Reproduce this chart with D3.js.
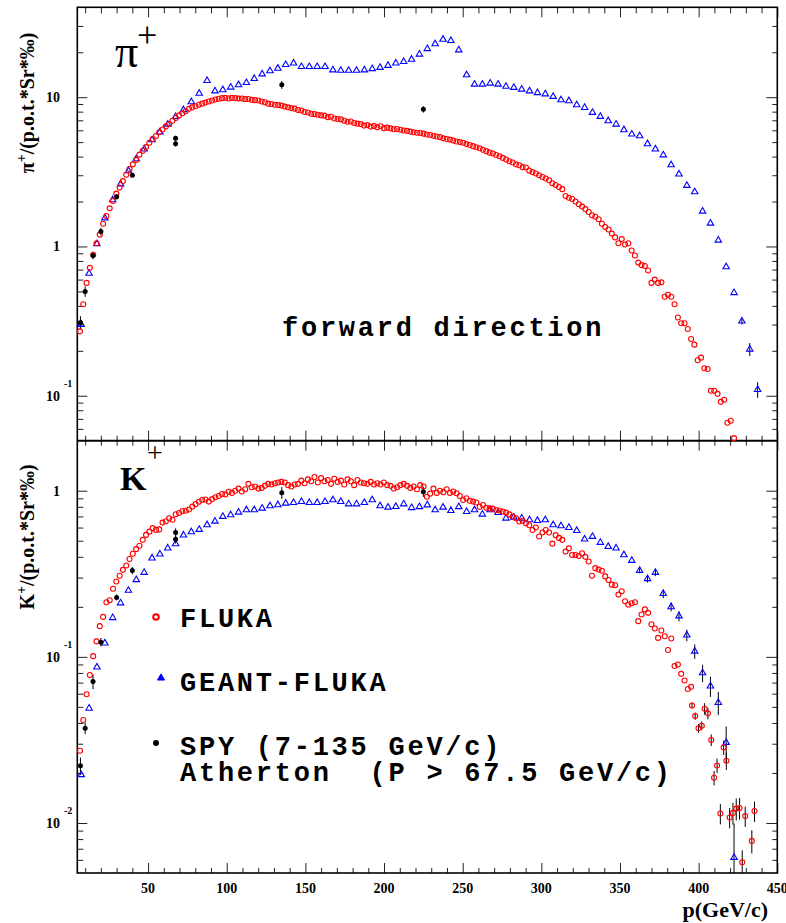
<!DOCTYPE html>
<html><head><meta charset="utf-8">
<script src="https://cdn.jsdelivr.net/npm/d3@7"></script>
<style>body{margin:0;background:#fff}svg{display:block}</style>
</head><body>
<svg id="c" width="786" height="923"></svg>
<script>
// ---------------- DATA ----------------
const momentaFine = [
6.7, 8.8, 10.9, 13.0, 15.1, 17.2, 19.3, 21.4, 23.5, 25.6,
27.7, 29.8, 31.9, 34.0, 36.1, 38.2, 40.3, 42.4, 44.5, 46.6,
48.7, 50.8, 52.9, 55.0, 57.1, 59.2, 61.3, 63.4, 65.5, 67.6,
69.7, 71.8, 73.9, 76.0, 78.1, 80.2, 82.3, 84.4, 86.5, 88.6,
90.7, 92.8, 94.9, 97.0, 99.1, 101.2, 103.3, 105.4, 107.5, 109.6,
111.7, 113.8, 115.9, 118.0, 120.1, 122.2, 124.3, 126.4, 128.5, 130.6,
132.7, 134.8, 136.9, 139.0, 141.1, 143.2, 145.3, 147.4, 149.5, 151.6,
153.7, 155.8, 157.9, 160.0, 162.1, 164.2, 166.3, 168.4, 170.5, 172.6,
174.7, 176.8, 178.9, 181.0, 183.1, 185.2, 187.3, 189.4, 191.5, 193.6,
195.7, 197.8, 199.9, 202.0, 204.1, 206.2, 208.3, 210.4, 212.5, 214.6,
216.7, 218.8, 220.9, 223.0, 225.1, 227.2, 229.3, 231.4, 233.5, 235.6,
237.7, 239.8, 241.9, 244.0, 246.1, 248.2, 250.3, 252.4, 254.5, 256.6,
258.7, 260.8, 262.9, 265.0, 267.1, 269.2, 271.3, 273.4, 275.5, 277.6,
279.7, 281.8, 283.9, 286.0, 288.1, 290.2, 292.3, 294.4, 296.5, 298.6,
300.7, 302.8, 304.9, 307.0, 309.1, 311.2, 313.3, 315.4, 317.5, 319.6,
321.7, 323.8, 325.9, 328.0, 330.1, 332.2, 334.3, 336.4, 338.5, 340.6,
342.7, 344.8, 346.9, 349.0, 351.1, 353.2, 355.3, 357.4, 359.5, 361.6,
363.7, 365.8, 367.9, 370.0, 372.1, 374.2, 376.3, 378.4, 380.5, 382.6,
384.7, 386.8, 388.9, 391.0, 393.1, 395.2, 397.3, 399.4, 401.5, 403.6,
405.7, 407.8, 409.9, 412.0, 414.1, 416.2, 418.3, 420.4, 422.5];

// FLUKA pi+ (forward direction)
const flukaPi = [
0.27, 0.41, 0.57, 0.72, 0.88, 1.05, 1.20, 1.42, 1.60, 1.80,
2.02, 2.26, 2.48, 2.74, 3.02, 3.30, 3.55, 3.80, 4.12, 4.38,
4.63, 4.95, 5.25, 5.50, 5.82, 6.08, 6.37, 6.62, 6.95, 7.25,
7.55, 7.80, 8.05, 8.35, 8.55, 8.70, 8.90, 9.05, 9.20, 9.35,
9.50, 9.65, 9.75, 9.85, 9.90, 9.80, 9.90, 9.85, 9.78, 9.80,
9.70, 9.72, 9.60, 9.55, 9.50, 9.35, 9.25, 9.05, 9.00, 8.90,
8.85, 8.78, 8.65, 8.55, 8.45, 8.38, 8.20, 8.15, 7.95, 7.90,
7.75, 7.70, 7.62, 7.55, 7.52, 7.35, 7.40, 7.20, 7.15, 7.10,
6.95, 6.85, 6.88, 6.72, 6.65, 6.60, 6.45, 6.50, 6.35, 6.40,
6.30, 6.38, 6.20, 6.25, 6.18, 6.10, 6.12, 6.05, 5.98, 5.95,
5.88, 5.82, 5.78, 5.75, 5.70, 5.62, 5.58, 5.52, 5.45, 5.40,
5.30, 5.25, 5.20, 5.12, 5.05, 5.00, 4.95, 4.85, 4.78, 4.70,
4.62, 4.55, 4.45, 4.35, 4.25, 4.20, 4.10, 4.02, 3.92, 3.82,
3.72, 3.65, 3.55, 3.50, 3.40, 3.38, 3.22, 3.15, 3.08, 3.00,
2.92, 2.85, 2.78, 2.65, 2.58, 2.50, 2.42, 2.18, 2.12, 2.08,
2.00, 1.92, 1.85, 1.78, 1.70, 1.62, 1.58, 1.52, 1.42, 1.35,
1.30, 1.22, 1.15, 1.05, 1.12, 1.03, 1.05, 0.94, 0.87, 0.78,
0.75, 0.74, 0.69, 0.57, 0.60, 0.57, 0.575, 0.46, 0.475, 0.46,
0.41, 0.334, 0.306, 0.306, 0.28, 0.24, 0.22, 0.173, 0.18, 0.153,
0.151, 0.108, 0.108, 0.103, 0.091, 0.094, 0.066, 0.068, 0.052];

// FLUKA K+ (first part on momentaFine, then tail points [p, value, relErr])
const flukaK = [
0.0272, 0.0417, 0.0595, 0.0777, 0.101, 0.124, 0.153, 0.174, 0.213, 0.219,
0.257, 0.284, 0.308, 0.334, 0.355, 0.388, 0.417, 0.445, 0.466, 0.506,
0.542, 0.567, 0.595, 0.581, 0.585, 0.643, 0.655, 0.683, 0.668, 0.722,
0.735, 0.755, 0.758, 0.77, 0.802, 0.83, 0.859, 0.88, 0.885, 0.86,
0.89, 0.913, 0.93, 0.955, 0.95, 0.986, 0.97, 1.00, 1.03, 0.99,
1.02, 1.10, 1.05, 1.06, 1.03, 1.04, 1.07, 1.10, 1.09, 1.11,
1.12, 1.13, 1.12, 1.08, 1.06, 1.09, 1.10, 1.15, 1.11, 1.17,
1.14, 1.21, 1.12, 1.19, 1.14, 1.16, 1.10, 1.18, 1.13, 1.15,
1.09, 1.17, 1.14, 1.08, 1.16, 1.12, 1.11, 1.10, 1.13, 1.09,
1.11, 1.09, 1.12, 1.08, 1.07, 1.03, 1.05, 1.08, 1.10, 1.07,
1.04, 1.06, 1.02, 1.08, 1.06, 0.92, 0.96, 1.03, 0.97, 1.00,
0.98, 1.02, 0.97, 0.99, 0.965, 0.93, 0.88, 0.90, 0.87, 0.86,
0.85, 0.80, 0.82, 0.79, 0.784, 0.78, 0.766, 0.76, 0.75, 0.738,
0.72, 0.70, 0.683, 0.652, 0.66, 0.638, 0.62, 0.58, 0.60, 0.53,
0.56, 0.58, 0.56, 0.48, 0.54, 0.52, 0.506, 0.43, 0.45, 0.41,
0.41, 0.405, 0.42, 0.40, 0.375, 0.308, 0.342, 0.335, 0.33, 0.305,
0.29, 0.272, 0.27, 0.237, 0.248, 0.216, 0.206, 0.21, 0.213, 0.164,
0.18, 0.193, 0.184, 0.157, 0.148, 0.13, 0.144, 0.133, 0.110, 0.129,
0.088, 0.09, 0.079, 0.072, 0.064, 0.066];
const flukaKTail = [
[395.8,0.051,0.04],[397.8,0.044,0.05],[399.9,0.0372,0.06],[402.0,0.0385,0.06],
[403.8,0.0487,0.08],[405.9,0.0457,0.08],[408.0,0.0316,0.08],[409.8,0.0187,0.10],
[411.7,0.0222,0.10],[413.8,0.0114,0.14],[415.9,0.0285,0.10],[417.6,0.0237,0.12],
[419.7,0.0108,0.14],[421.8,0.0115,0.15],[423.9,0.0122,0.15],[426.0,0.0123,0.15],
[427.7,0.0058,0.18],[429.6,0.0110,0.14],[433.8,0.0078,0.16],[435.5,0.0118,0.14]];

const momentaCoarse = [
7.5, 12.5, 17.5, 22.5, 27.5, 32.5, 37.5, 42.5, 47.5, 52.5,
57.5, 62.5, 67.5, 72.5, 77.5, 82.5, 87.5, 92.5, 97.5, 102.5,
107.5, 112.5, 117.5, 122.5, 127.5, 132.5, 137.5, 142.5, 147.5, 152.5,
157.5, 162.5, 167.5, 172.5, 177.5, 182.5, 187.5, 192.5, 197.5, 202.5,
207.5, 212.5, 217.5, 222.5, 227.5, 232.5, 237.5, 242.5, 247.5, 252.5,
257.5, 262.5, 267.5, 272.5, 277.5, 282.5, 287.5, 292.5, 297.5, 302.5,
307.5, 312.5, 317.5, 322.5, 327.5, 332.5, 337.5, 342.5, 347.5, 352.5,
357.5, 362.5, 367.5, 372.5, 377.5, 382.5, 387.5, 392.5, 397.5, 402.5,
407.5, 412.5, 417.5, 422.5, 427.5, 432.5, 437.5];

const geantPi = [
0.30, 0.66, 1.04, 1.55, 2.05, 2.62, 3.21, 3.86, 4.49, 5.17,
5.83, 6.59, 7.40, 8.22, 9.30, 10.6, 12.9, 11.0, 11.2, 11.66,
12.1, 12.5, 13.3, 14.3, 15.0, 15.6, 16.5, 16.9, 16.0, 16.0,
16.0, 16.0, 15.2, 15.1, 15.1, 15.1, 15.2, 15.5, 15.8, 16.3,
16.9, 17.3, 17.9, 19.4, 21.1, 22.75, 24.4, 23.9, 20.7, 14.1,
12.2, 12.2, 12.4, 12.2, 11.8, 11.6, 11.3, 11.0, 10.7, 10.5,
10.1, 9.59, 9.45, 8.88, 8.52, 7.89, 7.42, 6.94, 6.59, 6.04,
5.65, 5.50, 4.87, 4.49, 4.10, 3.52, 3.05, 2.56, 2.32, 1.72,
1.43, 1.10, 0.73, 0.49, 0.316, 0.205, 0.11];
const geantPiErr = [[427.5,0.05],[432.5,0.10],[437.5,0.12]];

const geantK = [
0.0195, 0.049, 0.0867, 0.121, 0.172, 0.211, 0.251, 0.291, 0.322, 0.393,
0.415, 0.451, 0.479, 0.540, 0.565, 0.584, 0.623, 0.655, 0.699, 0.715,
0.742, 0.766, 0.766, 0.784, 0.81, 0.821, 0.84, 0.847, 0.859, 0.847,
0.847, 0.859, 0.88, 0.859, 0.832, 0.832, 0.847, 0.88, 0.81, 0.795,
0.802, 0.832, 0.79, 0.80, 0.82, 0.766, 0.795, 0.759, 0.80, 0.748,
0.766, 0.722, 0.766, 0.738, 0.683, 0.692, 0.683, 0.667, 0.661, 0.667,
0.623, 0.614, 0.60, 0.575, 0.511, 0.53, 0.488, 0.461, 0.451, 0.411,
0.38, 0.331, 0.295, 0.322, 0.24, 0.20, 0.176, 0.135, 0.108, 0.080,
0.0667, 0.053, 0.0305, 0.0062];
const geantKErr = [[362.5,0.04],[367.5,0.05],[372.5,0.05],[377.5,0.06],[382.5,0.06],
[387.5,0.07],[392.5,0.08],[397.5,0.10],[402.5,0.12],[407.5,0.14],[412.5,0.16],
[417.5,0.25],[422.5,0.6]];

// SPY / Atherton measurements [p, value, relErr]
const spyPi = [[7,0.31,0.10],[10,0.50,0.08],[15,0.87,0.06],[20,1.26,0.06],[30,2.15,0.04],
[40,3.0,0.03],[67.5,5.3,0.04],[67.5,4.87,0.04],[135,12.1,0.06],[225,8.3,0.05]];
const spyK = [[7,0.0221,0.12],[10,0.0372,0.08],[15,0.071,0.10],[20,0.1225,0.06],[30,0.228,0.04],
[40,0.331,0.05],[67.5,0.56,0.06],[67.5,0.511,0.06],[135,0.973,0.08],[225,0.986,0.07]];

const xTickValues = [50,100,150,200,250,300,350,400,450];
const piTickVals = [0.1,1,10], piTickBase = ["10","1","10"], piTickExp = ["-1","",""];
const kTickVals = [0.01,0.1,1], kTickBase = ["10","10","1"], kTickExp = ["-2","-1",""];
const legendLabels = ["FLUKA","GEANT-FLUKA","SPY (7-135 GeV/c)","Atherton  (P > 67.5 GeV/c)"];

// ---------------- CHART ----------------
const svg = d3.select("#c");
const xL=77.3, xR=777.3, yT=7.3, yM=440.7, yB=873;
const x = d3.scaleLinear().domain([5,450]).range([xL,xR]);
const yPi = d3.scaleLog().domain([0.05,40]).range([yM,yT]);
const yK = d3.scaleLog().domain([0.005,2]).range([yB,yM]);
const serif = "'Liberation Serif','Times New Roman',Times,serif";
const mono = "'Courier New','Liberation Mono',monospace";
const RED="#ff0000", BLUE="#0000ff";
const monoSize = 27, monoSpacing = 2.75;

svg.append("rect").attr("width",786).attr("height",923).attr("fill","#fff");
const defs = svg.append("defs");
defs.append("clipPath").attr("id","clipK").append("rect").attr("x",xL).attr("y",yM).attr("width",xR-xL).attr("height",yB-yM);
defs.append("clipPath").attr("id","clipPi").append("rect").attr("x",xL).attr("y",yT).attr("width",xR-xL).attr("height",yM-yT);

function styleAxis(g){ g.select(".domain").remove(); g.selectAll("line").attr("stroke","#222").attr("stroke-width",1); g.selectAll("text").remove(); }
const xMinor = d3.range(10,450,10).filter(v=>v%50!==0);
function xAxes(gen, y, major, minor){
  svg.append("g").attr("transform",`translate(0,${y})`).call(gen(x).tickValues(xTickValues).tickSize(major)).call(styleAxis);
  svg.append("g").attr("transform",`translate(0,${y})`).call(gen(x).tickValues(xMinor).tickSize(minor)).call(styleAxis);
}
xAxes(d3.axisBottom, yT, 10, 6);
xAxes(d3.axisTop, yM, 10, 5);
xAxes(d3.axisBottom, yM, 10, 5);
xAxes(d3.axisTop, yB, 10, 5);

function minorLog(scale){
  const [a,b]=scale.domain(); const out=[];
  for(let e=Math.floor(Math.log10(a)); e<=Math.ceil(Math.log10(b)); e++){
    for(let m=2;m<=9;m++){ const v=m*Math.pow(10,e); if(v>=a*1.0001 && v<=b*0.9999) out.push(v); }
  }
  return out;
}
function yAxes(scale, majors){
  const mn = minorLog(scale);
  svg.append("g").attr("transform",`translate(${xL},0)`).call(d3.axisRight(scale).tickValues(majors).tickSize(10)).call(styleAxis);
  svg.append("g").attr("transform",`translate(${xL},0)`).call(d3.axisRight(scale).tickValues(mn).tickSize(6)).call(styleAxis);
  svg.append("g").attr("transform",`translate(${xR},0)`).call(d3.axisLeft(scale).tickValues(majors).tickSize(11)).call(styleAxis);
  svg.append("g").attr("transform",`translate(${xR},0)`).call(d3.axisLeft(scale).tickValues(mn).tickSize(5)).call(styleAxis);
}
yAxes(yPi, piTickVals);
yAxes(yK, kTickVals);

svg.append("rect").attr("x",xL).attr("y",yT).attr("width",xR-xL).attr("height",yB-yT)
  .attr("fill","none").attr("stroke","#000").attr("stroke-width",1.6);
svg.append("line").attr("x1",xL).attr("x2",xR).attr("y1",yM).attr("y2",yM).attr("stroke","#000").attr("stroke-width",2);

function yLabels(scale, vals, base, exp){
  vals.forEach((v,i)=>{
    const y = scale(v);
    svg.append("text").attr("x",60).attr("y",y+5).attr("text-anchor","end")
      .attr("font-family",serif).attr("font-weight","bold").attr("font-size",14).text(base[i]);
    if(exp[i]) svg.append("text").attr("x",64).attr("y",y-8.5).attr("text-anchor","start")
      .attr("font-family",serif).attr("font-weight","bold").attr("font-size",10).text(exp[i]);
  });
}
yLabels(yPi, piTickVals, piTickBase, piTickExp);
yLabels(yK, kTickVals, kTickBase, kTickExp);

svg.append("g").selectAll("text").data(xTickValues).join("text")
  .attr("x",d=>x(d)).attr("y",893).attr("text-anchor","middle")
  .attr("font-family",serif).attr("font-weight","bold").attr("font-size",14).text(d=>d);
svg.append("text").attr("x",768).attr("y",917).attr("text-anchor","end")
  .attr("font-family",serif).attr("font-weight","bold").attr("font-size",22).text("p(GeV/c)");

function yTitle(cy, sym){
  const t = svg.append("text").attr("transform",`translate(34,${cy}) rotate(-90)`).attr("text-anchor","middle")
    .attr("font-family",serif).attr("font-weight","bold").attr("font-size",20);
  t.append("tspan").text(sym);
  t.append("tspan").attr("dy",-8).attr("font-size",14).text("+");
  t.append("tspan").attr("dy",8).text("/(p.o.t.*Sr*‰)");
}
yTitle(103, "π");
yTitle(537, "K");

svg.append("text").attr("x",115).attr("y",67).attr("font-family",serif).attr("font-size",46).text("π");
svg.append("text").attr("x",137).attr("y",47).attr("font-family",serif).attr("font-size",36).text("+");
svg.append("text").attr("x",120).attr("y",490).attr("font-family",serif).attr("font-weight","bold").attr("font-size",34).text("K");
svg.append("text").attr("x",147).attr("y",462).attr("font-family",serif).attr("font-size",28).text("+");

svg.append("text").attr("x",282).attr("y",336).attr("font-family",mono).attr("font-weight","bold")
  .attr("font-size",monoSize).attr("letter-spacing",monoSpacing).text("forward direction");

const tri = d3.symbol(d3.symbolTriangle, 18);
function circles(data, scale){
  svg.append("g").selectAll("circle").data(data).join("circle")
    .attr("cx",d=>x(d[0])).attr("cy",d=>scale(d[1])).attr("r",2.5)
    .attr("fill","none").attr("stroke",RED).attr("stroke-width",1.1);
}
function triangles(data, scale){
  svg.append("g").selectAll("path").data(data).join("path")
    .attr("d",tri).attr("transform",d=>`translate(${x(d[0])},${scale(d[1])})`)
    .attr("fill","none").attr("stroke",BLUE).attr("stroke-width",1.1);
}
function errBars(data, scale, clip){
  svg.append("g").attr("clip-path",`url(#${clip})`).selectAll("line").data(data).join("line")
    .attr("x1",d=>x(d[0])).attr("x2",d=>x(d[0]))
    .attr("y1",d=>scale(d[1]*(1+d[2]))).attr("y2",d=>scale(Math.max(d[1]*(1-d[2]),1e-4)))
    .attr("stroke","#000").attr("stroke-width",1);
}
const piRed = momentaFine.map((p,i)=>[p,flukaPi[i]]);
const piBlue = momentaCoarse.map((p,i)=>[p,geantPi[i]]);
const kRed = flukaK.map((v,i)=>[momentaFine[i],v]).concat(flukaKTail.map(d=>[d[0],d[1]]));
const kBlue = geantK.map((v,i)=>[momentaCoarse[i],v]);
const valAt = (ps, vs, p) => vs[ps.indexOf(p)];

errBars(geantPiErr.map(d=>[d[0],valAt(momentaCoarse,geantPi,d[0]),d[1]]), yPi, "clipPi");
errBars(geantKErr.map(d=>[d[0],valAt(momentaCoarse,geantK,d[0]),d[1]]), yK, "clipK");
errBars(flukaKTail, yK, "clipK");
errBars(spyPi, yPi, "clipPi");
errBars(spyK, yK, "clipK");

triangles(piBlue, yPi);
circles(piRed, yPi);
triangles(kBlue, yK);
circles(kRed, yK);

svg.append("g").selectAll("circle").data(spyPi).join("circle")
  .attr("cx",d=>x(d[0])).attr("cy",d=>yPi(d[1])).attr("r",2.5).attr("fill","#000");
svg.append("g").selectAll("circle").data(spyK).join("circle")
  .attr("cx",d=>x(d[0])).attr("cy",d=>yK(d[1])).attr("r",2.5).attr("fill","#000");

const legY = [627, 691, 755, 781];
svg.append("circle").attr("cx",156).attr("cy",617).attr("r",2.8).attr("fill","none").attr("stroke",RED).attr("stroke-width",2);
svg.append("path").attr("d",d3.symbol(d3.symbolTriangle,22)).attr("transform","translate(161,678)")
  .attr("fill",BLUE).attr("stroke",BLUE).attr("stroke-width",1);
svg.append("circle").attr("cx",156).attr("cy",743).attr("r",3).attr("fill","#000");
legendLabels.forEach((t,i)=>{
  svg.append("text").attr("x",180).attr("y",legY[i]).attr("font-family",mono).attr("font-weight","bold")
    .attr("font-size",monoSize).attr("letter-spacing",monoSpacing).attr("xml:space","preserve").style("white-space","pre").text(t);
});
</script>
</body></html>
